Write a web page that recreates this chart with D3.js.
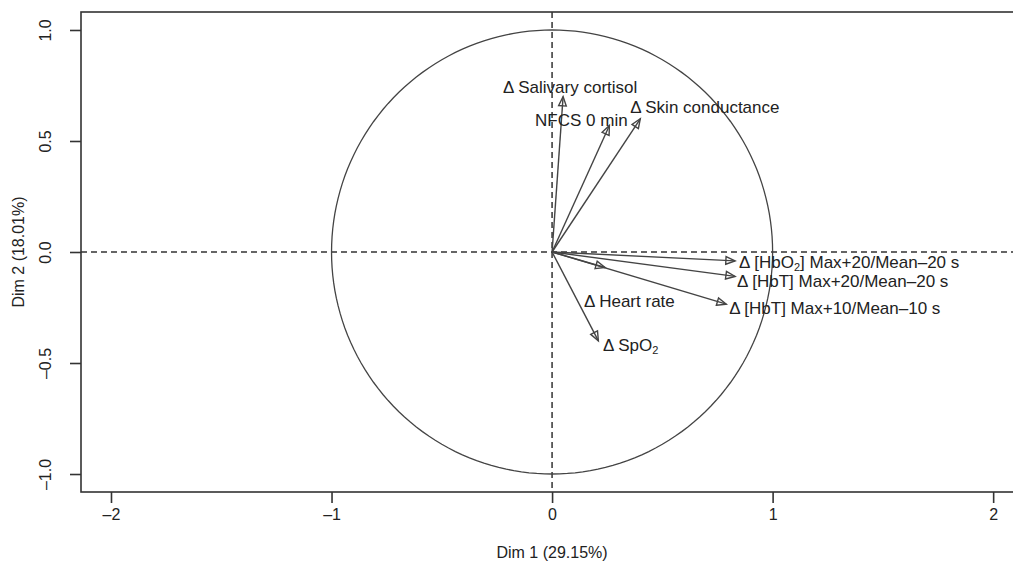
<!DOCTYPE html>
<html>
<head>
<meta charset="utf-8">
<script src="https://cdn.jsdelivr.net/npm/d3@7.9.0/dist/d3.min.js"></script>
<style>
  body { margin: 0; background: #fff; }
  svg { display: block; font-family: "Liberation Sans", Arial, sans-serif; }
</style>
</head>
<body>
<div id="chart"></div>
<script>
// variable names (parts: [text, isSubscript])
const varLabels = [
  [['Δ Salivary cortisol', false]],
  [['NFCS 0 min', false]],
  [['Δ Skin conductance', false]],
  [['Δ [HbO', false], ['2', true], ['] Max+20/Mean–20 s', false]],
  [['Δ [HbT] Max+20/Mean–20 s', false]],
  [['Δ [HbT] Max+10/Mean–10 s', false]],
  [['Δ Heart rate', false]],
  [['Δ SpO', false], ['2', true]]
];
// arrow tips (correlations with Dim 1 / Dim 2)
const dim1 = [0.05, 0.26, 0.40, 0.83, 0.83, 0.79, 0.24, 0.21];
const dim2 = [0.70, 0.57, 0.60, -0.04, -0.11, -0.235, -0.07, -0.40];
// where each label sits (data units, left edge / vertical middle)
const labelX = [-0.222, -0.077, 0.354, 0.848, 0.839, 0.803, 0.145, 0.231];
const labelY = [0.743, 0.595, 0.653, -0.045, -0.131, -0.252, -0.221, -0.419];

const xTicks = [-2, -1, 0, 1, 2];
const yTicks = [-1.0, -0.5, 0.0, 0.5, 1.0];
const xTitle = 'Dim 1 (29.15%)';
const yTitle = 'Dim 2 (18.01%)';

const width = 1013, height = 561;
const margin = { top: 12, right: -2, bottom: 69, left: 81 };
const usable = {
  left: margin.left, right: width - margin.right,
  top: margin.top, bottom: height - margin.bottom
};

const svg = d3.select('#chart').append('svg')
  .attr('width', width).attr('height', height);

const xScale = d3.scaleLinear().domain([-2.136, 2.09]).range([usable.left, 1013]);
const yScale = d3.scaleLinear().domain([-1.081, 1.081]).range([usable.bottom, usable.top]);

const dash = (s) => String(s).replace('-', '–').replace('−', '–');
const ink = '#333';
const font = '"Liberation Sans", Arial, sans-serif';

// frame
svg.append('rect')
  .attr('x', usable.left).attr('y', usable.top)
  .attr('width', usable.right - usable.left)
  .attr('height', usable.bottom - usable.top)
  .attr('fill', 'none').attr('stroke', ink).attr('stroke-width', 1.6);

// axes
const xAxis = svg.append('g')
  .attr('transform', `translate(0, ${usable.bottom})`)
  .call(d3.axisBottom(xScale).tickValues(xTicks).tickSize(11).tickSizeOuter(0)
    .tickPadding(6).tickFormat(d => dash(d3.format('d')(d))));
xAxis.select('.domain').remove();
xAxis.selectAll('line').attr('stroke', ink).attr('stroke-width', 1.6);
xAxis.selectAll('text').attr('font-size', 16).attr('fill', '#222')
  .attr('font-family', font);

const yAxis = svg.append('g')
  .attr('transform', `translate(${usable.left}, 0)`)
  .call(d3.axisLeft(yScale).tickValues(yTicks).tickSize(11).tickSizeOuter(0)
    .tickFormat(d => dash(d3.format('.1f')(d))));
yAxis.select('.domain').remove();
yAxis.selectAll('line').attr('stroke', ink).attr('stroke-width', 1.6);
yAxis.selectAll('text')
  .attr('x', 0).attr('dy', '0.35em')
  .attr('text-anchor', 'middle')
  .attr('transform', 'translate(-36,0) rotate(-90)')
  .attr('font-size', 16).attr('fill', '#222')
  .attr('font-family', font);

// axis titles
svg.append('text')
  .attr('x', xScale(0)).attr('y', 558)
  .attr('text-anchor', 'middle').attr('font-size', 16).attr('fill', '#222')
  .text(xTitle);
svg.append('text')
  .attr('transform', `translate(24, ${yScale(0)}) rotate(-90)`)
  .attr('text-anchor', 'middle').attr('font-size', 16).attr('fill', '#222')
  .text(yTitle);

// dashed reference lines
svg.append('line')
  .attr('x1', usable.left).attr('x2', width)
  .attr('y1', yScale(0)).attr('y2', yScale(0))
  .attr('stroke', ink).attr('stroke-width', 1.5).attr('stroke-dasharray', '6,4');
svg.append('line')
  .attr('x1', xScale(0)).attr('x2', xScale(0))
  .attr('y1', usable.top).attr('y2', usable.bottom)
  .attr('stroke', ink).attr('stroke-width', 1.5).attr('stroke-dasharray', '6,4');

// unit circle
const circ = d3.range(0, 361, 2).map(a => [Math.cos(a * Math.PI / 180), Math.sin(a * Math.PI / 180)]);
svg.append('path')
  .attr('d', d3.line().x(d => xScale(d[0])).y(d => yScale(d[1]))(circ))
  .attr('fill', 'none').attr('stroke', '#444').attr('stroke-width', 1.3);

// arrows
const vars = varLabels.map((parts, i) => ({
  parts, x: dim1[i], y: dim2[i], lx: labelX[i], ly: labelY[i]
}));

const arrows = svg.append('g').attr('class', 'arrows')
  .attr('stroke', '#444').attr('stroke-width', 1.4).attr('fill', 'none');

arrows.selectAll('line')
  .data(vars)
  .join('line')
  .attr('x1', xScale(0)).attr('y1', yScale(0))
  .attr('x2', d => xScale(d.x)).attr('y2', d => yScale(d.y));

arrows.selectAll('path')
  .data(vars)
  .join('path')
  .attr('d', d => {
    const x0 = xScale(0), y0 = yScale(0);
    const x1 = xScale(d.x), y1 = yScale(d.y);
    const ang = Math.atan2(y1 - y0, x1 - x0);
    const len = 10, spread = Math.PI / 8;
    const a = [x1 - len * Math.cos(ang - spread), y1 - len * Math.sin(ang - spread)];
    const b = [x1 - len * Math.cos(ang + spread), y1 - len * Math.sin(ang + spread)];
    return `M${a[0]},${a[1]}L${x1},${y1}L${b[0]},${b[1]}Z`;
  });

// labels
const labels = svg.append('g').attr('class', 'labels')
  .attr('font-size', 17).attr('fill', '#222');

labels.selectAll('text')
  .data(vars)
  .join('text')
  .attr('x', d => xScale(d.lx))
  .attr('y', d => yScale(d.ly))
  .attr('dy', '0.35em')
  .each(function (d) {
    const t = d3.select(this);
    d.parts.forEach(([s, sub]) => {
      const sp = t.append('tspan').text(s);
      if (sub) sp.attr('font-size', 11).attr('dy', 3);
      else if (t.selectAll('tspan').size() > 1) sp.attr('dy', -3);
    });
  });
</script>
</body>
</html>
